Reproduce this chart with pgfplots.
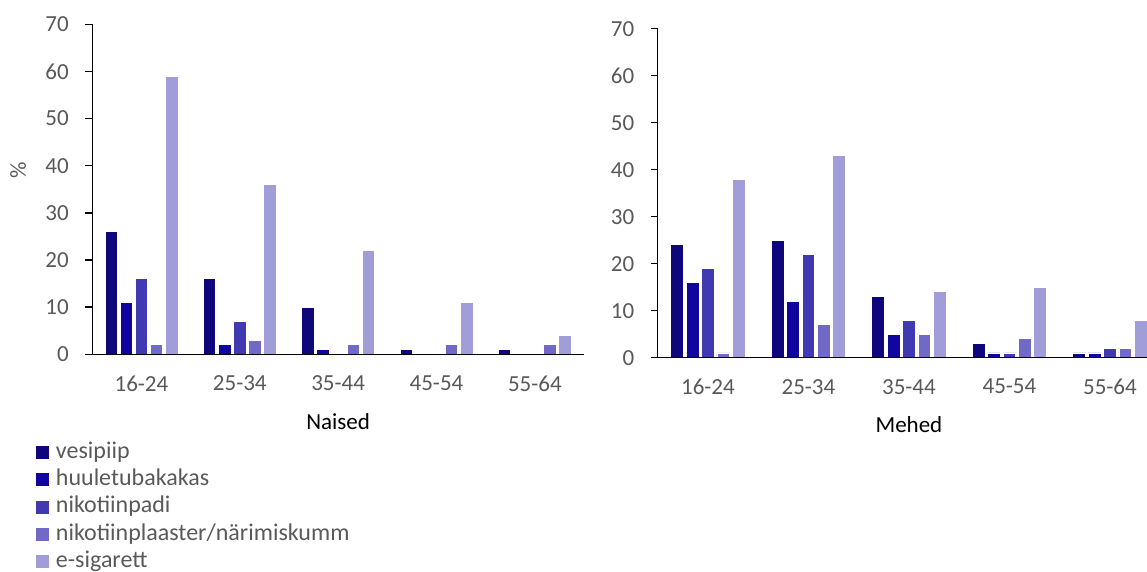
\documentclass[border=0pt]{standalone}
\usepackage{fontspec}
\setmainfont{Carlito}
\usepackage{pgfplots}
\pgfplotsset{compat=1.18}
\definecolor{cA}{RGB}{14,6,122}
\definecolor{cB}{RGB}{16,6,159}
\definecolor{cC}{RGB}{64,57,178}
\definecolor{cD}{RGB}{112,106,198}
\definecolor{cE}{RGB}{160,157,216}
\definecolor{tickgray}{RGB}{89,89,89}
\pgfplotsset{
  mybars/.style={
    scale only axis, axis on top,
    xmin=-0.5, xmax=4.5, ymin=0, ymax=70,
    axis lines*=left,
    axis line style={black, line width=1.5pt},
    ytick={0,10,...,70},
    xtick={0,1,2,3,4},
    xticklabels={16-24,25-34,35-44,45-54,55-64},
    tick align=outside, major tick length=7pt,
    ytick style={black, line width=1.5pt},
    xtick style={draw=none},
    tick label style={font=\fontsize{23}{27}\selectfont, text=tickgray},
    /pgf/number format/assume math mode=true,
    yticklabel style={xshift=-13pt},
    xticklabel style={yshift=-11pt},
    every axis plot/.append style={draw=white, line width=0.8pt},
    xlabel style={font=\fontsize{23}{27}\selectfont, text=black},
    ylabel style={font=\fontsize{23}{27}\selectfont, text=tickgray},
  }
}
\begin{document}
\begin{tikzpicture}
\useasboundingbox (0,0) rectangle (1147pt,572pt);
\clip (0,0) rectangle (1147pt,572pt);
% Naised
\begin{axis}[mybars,
  at={(92.3pt,217.7pt)}, anchor=south west,
  width=491.7pt, height=330pt,
  ybar=2.6pt, bar width=12.5pt,
  xlabel={Naised},
  xlabel style={at={(axis description cs:0.5,-0.203)}, anchor=center},
  ylabel={\%},
  ylabel style={at={(axis description cs:-0.151,0.558)}, anchor=center, rotate=0},
  legend cell align=left,
  legend style={at={(axis description cs:-0.115,-0.258)}, anchor=north west,
    draw=none, fill=none, font=\fontsize{24}{28}\selectfont, text=tickgray,
    row sep=1.3pt, column sep=5.5pt, inner sep=0pt,
    nodes={inner sep=1.5pt, text height=17pt, text depth=6pt}},
  legend image code/.code={\fill[#1, draw=none] (0pt,-6.5pt) rectangle (13pt,6.5pt);},
]
\addplot[fill=cA] coordinates {(0,26) (1,16) (2,10) (3,1) (4,1)};
\addplot[fill=cB] coordinates {(0,11) (1,2) (2,1) (3,0) (4,0)};
\addplot[fill=cC] coordinates {(0,16) (1,7) (2,0) (3,0) (4,0)};
\addplot[fill=cD] coordinates {(0,2) (1,3) (2,2) (3,2) (4,2)};
\addplot[fill=cE] coordinates {(0,59) (1,36) (2,22) (3,11) (4,4)};
\legend{vesipiip,huuletubakakas,nikotiinpadi,nikotiinplaaster/närimiskumm,e-sigarett}
\end{axis}
% Mehed
\begin{axis}[mybars,
  at={(657.7pt,214.3pt)}, anchor=south west,
  width=502.5pt, height=329pt,
  ybar=2.6pt, bar width=12.8pt,
  xlabel={Mehed},
  xlabel style={at={(axis description cs:0.5,-0.2036)}, anchor=center},
]
\addplot[fill=cA] coordinates {(0,24) (1,25) (2,13) (3,3) (4,1)};
\addplot[fill=cB] coordinates {(0,16) (1,12) (2,5) (3,1) (4,1)};
\addplot[fill=cC] coordinates {(0,19) (1,22) (2,8) (3,1) (4,2)};
\addplot[fill=cD] coordinates {(0,1) (1,7) (2,5) (3,4) (4,2)};
\addplot[fill=cE] coordinates {(0,38) (1,43) (2,14) (3,15) (4,8)};
\end{axis}
\end{tikzpicture}
\end{document}
